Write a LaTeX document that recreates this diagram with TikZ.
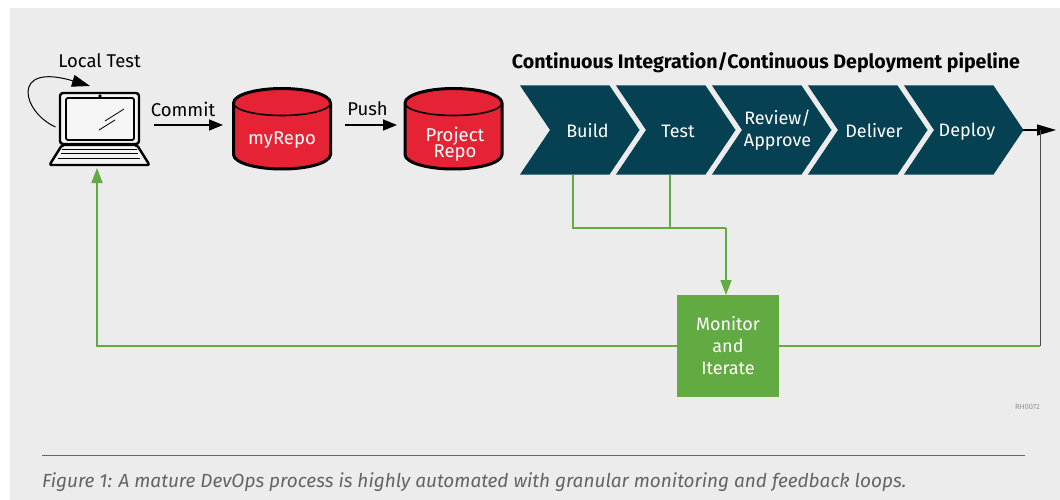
\documentclass[tikz,border=0pt]{standalone}
\usepackage{fontspec}
\setmainfont{Fira Sans}
\usepackage{xcolor}
\definecolor{ColBack}{RGB}{236,236,236}
\definecolor{ColRed}{RGB}{230,35,53}
\definecolor{ColTeal}{RGB}{5,65,82}
\definecolor{ColGreen}{RGB}{98,170,66}
\definecolor{ColNote}{RGB}{100,100,100}
\usetikzlibrary{arrows.meta}
\tikzstyle{Repo}=[inner sep=0pt,text=white,align=center,font=\fontsize{18.5}{16}\selectfont]
\tikzstyle{Stage}=[inner sep=0pt,text=white,align=center,font=\fontsize{18}{22}\selectfont]
\tikzstyle{Check}=[fill=ColGreen,minimum size=102pt,inner sep=0pt,text=white,align=center,
font=\fontsize{18}{22}\selectfont]
\tikzstyle{Label}=[inner sep=0pt,font=\fontsize{18.5}{20}\selectfont]
\tikzstyle{Edge}=[draw=black,line width=1.5pt,-{Triangle[length=14pt,width=11pt]}]
\tikzstyle{Feedback}=[draw=ColGreen,line width=1.5pt]
\tikzstyle{FeedbackTip}=[Feedback,-{Triangle[length=15pt,width=11pt,fill=ColGreen]}]
\tikzstyle{Part}=[draw=black,line width=2.4pt,line join=round]
\newcommand{\RepoBody}[1]{\filldraw[fill=ColRed,line width=3pt,line join=round]
    (#1-48.5,-103)arc(180:0:48.5 and 14.5)--(#1+48.5,-154.5)arc(0:-180:48.5 and 14.5)--cycle;
    \draw[line width=1.6pt](#1-48.5,-103)arc(180:360:48.5 and 12.5);}
\begin{document}
\begin{tikzpicture}[x=1pt,y=1pt]
        \useasboundingbox(0,0)rectangle(1060,-500);
        \fill[ColBack](10,-8)rectangle(1060,-500);
        \node[Label](LocalTest)at(99.5,-60.5){Local Test};
        \node[Label](Commit)at(183,-109){Commit};
        \node[Label](Push)at(367.5,-109){Push};
        \node[Label,font=\fontsize{19.6}{20}\selectfont\bfseries](Pipeline)at(766,-63){Continuous Integration/Continuous Deployment pipeline};
        \filldraw[Part,fill=ColBack!60!white,rounded corners=3pt](60,-93)rectangle(139,-144);
        \filldraw[Part,line width=1.8pt,fill=ColBack!50!white,rounded corners=2pt](66,-98)rectangle(134,-140);
        \filldraw[Part,fill=ColBack!60!white,rounded corners=2pt](62,-145)--(137,-145)--(149.5,-165)--(49.5,-165)--cycle;
        \fill(100,-96)circle(1.8pt);
        \draw[line width=.8pt](62,-149)--(137,-149)(61,-153)--(138,-153)(58,-158)--(140,-158);
        \draw[line width=.8pt](105,-121)--(124,-109)(99,-130)--(115,-120);
        \coordinate(LoopOut)at(55.5,-127);
        \coordinate(LoopIn)at(90,-86);
        \draw[Edge,line width=1pt,-{Triangle[length=18pt,width=12pt]}](LoopOut)..controls(22,-112)and(10,-62)..(LoopIn);
        \RepoBody{282}
        \RepoBody{453.5}
        \node[Repo](myRepo)at(282,-140){myRepo};
        \node[Repo](ProjectRepo)at(455,-144){Project\\[-2pt]Repo};
        \foreach \x in {520,616,712,808,904}
            \fill[ColTeal](\x,-85.5)--++(89.5,0)--++(30,-44.5)--++(-30,-44.5)--++(-89.5,0)--++(30,44.5)--cycle;
        \node[Stage](Build)at(587.5,-131){Build};
        \node[Stage](Test)at(678,-131){Test};
        \node[Stage](Review)at(777.5,-130.5){Review/\\Approve};
        \node[Stage](Deliver)at(874,-131){Deliver};
        \node[Stage](Deploy)at(967,-132){Deploy};
        \node[Check](Monitor)at(728,-346){Monitor\\and\\Iterate};
        \node[inner sep=0pt,text=ColNote!70,font=\fontsize{7.5}{8}\selectfont,anchor=east](Code)at(1040,-407){RH0072};
        \node[inner sep=0pt,text=ColNote,anchor=west,font=\fontsize{19}{20}\selectfont\itshape](Caption)at(42,-482){Figure 1: A mature DevOps process is highly automated with granular monitoring and feedback loops.};
        \coordinate(CommitOut)at(154,-125);
        \coordinate(CommitIn)at(223,-125);
        \coordinate(PushOut)at(345,-125);
        \coordinate(PushIn)at(397,-125);
        \coordinate(BuildOut)at(573,-175);
        \coordinate(TestOut)at(670,-175);
        \coordinate(JoinLeft)at(573,-228);
        \coordinate(JoinMid)at(670,-228);
        \coordinate(JoinRight)at(726,-228);
        \coordinate(MonitorIn)at(726,-295);
        \coordinate(LaptopCorner)at(97,-346);
        \coordinate(LaptopIn)at(97,-168);
        \coordinate(LineCorner)at(1040,-346);
        \coordinate(LineTop)at(1040,-130);
        \coordinate(DeployTip)at(1023,-130);
        \coordinate(DeployOut)at(1056,-130);
        \coordinate(RuleLeft)at(42,-455);
        \coordinate(RuleRight)at(1025,-455);
        \draw[Edge](CommitOut)--(CommitIn);
        \draw[Edge](PushOut)--(PushIn);
        \draw[Edge,line width=1.2pt,-{Triangle[length=19pt,width=11pt]}](DeployTip)--(DeployOut);
        \draw[Feedback](BuildOut)--(JoinLeft)--(JoinRight);
        \draw[Feedback](TestOut)--(JoinMid);
        \draw[FeedbackTip](JoinRight)--(MonitorIn);
        \draw[FeedbackTip](Monitor.west|-LaptopCorner)--(LaptopCorner)--(LaptopIn);
        \draw[Feedback](Monitor.east|-LineCorner)--(LineCorner);
        \draw[draw=black!70,line width=1pt](LineCorner)--(LineTop);
        \draw[draw=black!60,line width=1pt](RuleLeft)--(RuleRight);
    \end{tikzpicture}
\end{document}
